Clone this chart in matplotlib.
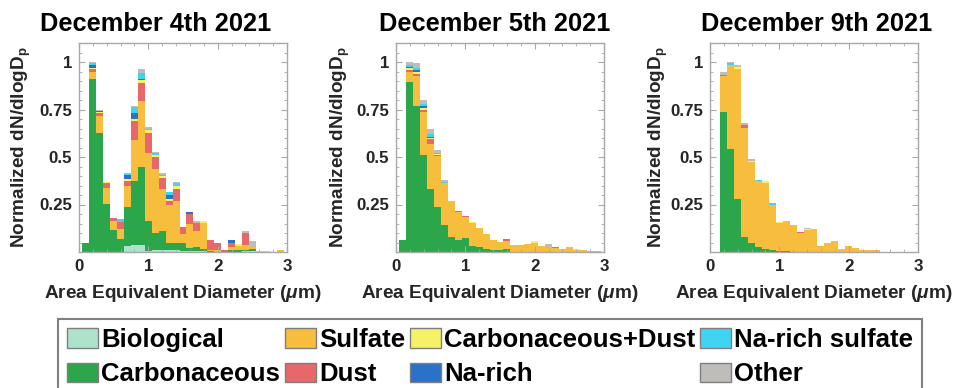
import numpy as np
import matplotlib
matplotlib.use("Agg")
import matplotlib.pyplot as plt
from matplotlib.patches import Patch
from matplotlib.ticker import MultipleLocator

plt.rcParams['font.family'] = ['Liberation Sans', 'DejaVu Sans']
plt.rcParams['font.weight'] = 'bold'
plt.rcParams['axes.labelweight'] = 'bold'
plt.rcParams['mathtext.fontset'] = 'custom'
plt.rcParams['mathtext.rm'] = 'Liberation Sans:bold'
plt.rcParams['mathtext.bf'] = 'Liberation Sans:bold'
plt.rcParams['mathtext.it'] = 'Liberation Sans:italic'

# bin centres (um)
diam = [0.1, 0.2, 0.3, 0.4, 0.5, 0.6, 0.7, 0.8, 0.9, 1.0,
        1.1, 1.2, 1.3, 1.4, 1.5, 1.6, 1.7, 1.8, 1.9, 2.0,
        2.1, 2.2, 2.3, 2.4, 2.5, 2.6, 2.7, 2.8, 2.9]

classes = ['Biological', 'Carbonaceous', 'Sulfate', 'Dust',
           'Carbonaceous+Dust', 'Na-rich', 'Na-rich sulfate', 'Other']
colors = ['#aee3cb', '#2ca64b', '#f7bd3c', '#e8676a',
          '#f5f266', '#2a72c8', '#3fd4f2', '#bfbdb9']

titles = ['December 4th 2021', 'December 5th 2021', 'December 9th 2021']

# December 4th
dec4_bio = [0, 0, 0, 0, 0, 0, 0.03, 0.035, 0.035, 0.005, 0.01, 0.01, 0.01, 0.01, 0.005,
            0.005, 0.005, 0.003, 0, 0, 0, 0, 0, 0.003, 0.005, 0.003, 0.003, 0, 0]
dec4_carb = [0.045, 0.91, 0.625, 0.253, 0.115, 0.07, 0.205, 0.34, 0.41, 0.16, 0.09, 0.10, 0.04, 0.04, 0.04,
             0.015, 0.02, 0.012, 0.003, 0, 0, 0.012, 0.01, 0.01, 0.012, 0, 0, 0, 0]
dec4_sulf = [0, 0.04, 0.09, 0.085, 0.05, 0.05, 0.112, 0.215, 0.35, 0.355, 0.335, 0.22, 0.2, 0.22, 0.05,
             0.125, 0.085, 0.14, 0.01, 0.008, 0, 0.015, 0.02, 0.025, 0.005, 0, 0, 0, 0.008]
dec4_dust = [0, 0.015, 0.015, 0.025, 0.012, 0.04, 0.026, 0.097, 0.095, 0.105, 0.065, 0.06, 0.02, 0.06, 0.035,
             0.055, 0.045, 0, 0.052, 0.04, 0.012, 0.023, 0, 0.06, 0, 0, 0, 0, 0]
dec4_cd = [0, 0.005, 0.005, 0.005, 0, 0, 0.01, 0.013, 0.015, 0.015, 0.01, 0.01, 0.01, 0.015, 0,
           0, 0, 0.008, 0, 0, 0, 0, 0.01, 0, 0, 0, 0, 0, 0]
dec4_narich = [0, 0.015, 0.005, 0, 0, 0, 0.02, 0.03, 0.005, 0, 0, 0, 0.02, 0, 0,
               0.01, 0, 0, 0, 0, 0, 0.014, 0, 0, 0, 0, 0, 0, 0]
dec4_nasulf = [0, 0.01, 0, 0, 0, 0.012, 0.008, 0.035, 0.03, 0.005, 0.01, 0.005, 0.015, 0.02, 0,
               0, 0, 0, 0, 0, 0, 0, 0, 0, 0, 0, 0, 0, 0]
dec4_other = [0, 0.005, 0.005, 0.002, 0.003, 0.003, 0.004, 0.005, 0.025, 0.015, 0.005, 0.01, 0, 0.005, 0,
              0, 0.01, 0, 0, 0, 0, 0, 0, 0.012, 0.036, 0, 0, 0, 0]

# December 5th
dec5_bio = [0] * 29
dec5_carb = [0.061, 0.894, 0.768, 0.513, 0.33, 0.236, 0.144, 0.08, 0.061, 0.072, 0.033, 0.024, 0.015, 0.008, 0.008,
             0.015, 0, 0, 0, 0, 0, 0, 0, 0, 0, 0, 0, 0, 0]
dec5_sulf = [0, 0.056, 0.156, 0.226, 0.236, 0.27, 0.22, 0.191, 0.15, 0.11, 0.122, 0.103, 0.08, 0.055, 0.046,
             0.045, 0.038, 0.035, 0.042, 0.05, 0.033, 0.022, 0.02, 0.015, 0.024, 0.01, 0.01, 0.006, 0.005]
dec5_dust = [0, 0.008, 0.012, 0.011, 0.028, 0.006, 0, 0, 0.004, 0.006, 0, 0, 0, 0, 0,
             0.008, 0, 0, 0, 0, 0, 0, 0.007, 0, 0, 0, 0, 0, 0]
dec5_cd = [0, 0.01, 0.01, 0.01, 0.008, 0.004, 0, 0, 0, 0, 0.005, 0, 0, 0, 0,
           0, 0, 0, 0, 0.006, 0, 0, 0, 0, 0, 0.005, 0, 0, 0]
dec5_narich = [0, 0.005, 0.01, 0.01, 0.005, 0, 0, 0, 0, 0, 0, 0, 0, 0, 0,
               0, 0, 0, 0, 0, 0, 0, 0, 0, 0, 0, 0, 0, 0]
dec5_nasulf = [0, 0.012, 0.01, 0.008, 0.015, 0.003, 0.006, 0, 0, 0, 0, 0, 0, 0, 0,
               0, 0, 0, 0, 0, 0, 0, 0, 0, 0, 0, 0, 0, 0]
dec5_other = [0, 0.015, 0.029, 0.022, 0.023, 0.017, 0.007, 0, 0, 0, 0, 0, 0, 0, 0,
              0, 0, 0, 0, 0, 0, 0.02, 0, 0, 0, 0, 0, 0, 0]

# December 9th
dec9_bio = [0] * 29
dec9_carb = [0, 0.739, 0.54, 0.28, 0.08, 0.05, 0.024, 0.015, 0.01, 0.005, 0.003, 0, 0, 0, 0,
             0, 0, 0, 0, 0, 0, 0, 0, 0, 0, 0, 0, 0, 0]
dec9_sulf = [0, 0.185, 0.446, 0.685, 0.574, 0.424, 0.348, 0.348, 0.235, 0.15, 0.162, 0.142, 0.1, 0.118, 0.12,
             0.033, 0.045, 0.057, 0.018, 0.033, 0.02, 0.011, 0.011, 0.011, 0, 0, 0, 0, 0]
dec9_dust = [0, 0.01, 0, 0, 0.016, 0, 0, 0, 0, 0, 0, 0, 0.007, 0, 0,
             0, 0, 0, 0, 0, 0, 0, 0, 0, 0, 0, 0, 0, 0]
dec9_cd = [0, 0, 0, 0.007, 0, 0.007, 0, 0.009, 0, 0.004, 0, 0, 0, 0.004, 0,
           0, 0, 0, 0, 0, 0, 0, 0, 0, 0, 0, 0, 0, 0]
dec9_narich = [0] * 29
dec9_nasulf = [0, 0, 0.01, 0, 0, 0, 0.005, 0, 0.012, 0, 0, 0, 0, 0, 0,
               0, 0, 0, 0, 0, 0, 0, 0, 0, 0, 0, 0, 0, 0]
dec9_other = [0, 0.013, 0.004, 0.01, 0.007, 0.007, 0, 0, 0, 0, 0, 0, 0, 0.003, 0,
              0, 0, 0, 0, 0, 0, 0, 0, 0, 0, 0, 0, 0, 0]

panels = [
    [dec4_bio, dec4_carb, dec4_sulf, dec4_dust, dec4_cd, dec4_narich, dec4_nasulf, dec4_other],
    [dec5_bio, dec5_carb, dec5_sulf, dec5_dust, dec5_cd, dec5_narich, dec5_nasulf, dec5_other],
    [dec9_bio, dec9_carb, dec9_sulf, dec9_dust, dec9_cd, dec9_narich, dec9_nasulf, dec9_other],
]

W, H = 956, 388
fig = plt.figure(figsize=(W / 100, H / 100), dpi=100)

ax_left = [79, 396, 710]
title_x = [0.37, 0.474, 0.513]
ylab_x = [-0.221, -0.213, -0.192]
ax_top, ax_bot, ax_w = 43, 252, 208
spine_col = '#a8a8a8'

for i in range(3):
    ax = fig.add_axes([ax_left[i] / W, 1 - ax_bot / H, ax_w / W, (ax_bot - ax_top) / H])
    bottom = np.zeros(len(diam))
    for vals, c in zip(panels[i], colors):
        ax.bar(diam, vals, width=0.1, bottom=bottom, color=c, linewidth=0)
        bottom += np.array(vals)

    ax.set_xlim(0, 3)
    ax.set_ylim(0, 1.1)
    ax.set_xticks([0, 1, 2, 3])
    ax.set_yticks([0.25, 0.5, 0.75, 1])
    ax.set_yticklabels(['0.25', '0.5', '0.75', '1'])
    ax.xaxis.set_minor_locator(MultipleLocator(0.2))
    ax.yaxis.set_minor_locator(MultipleLocator(0.05))
    ax.tick_params(which='both', direction='in', top=True, right=True,
                   color=spine_col, labelsize=12.2, labelcolor='#262626', pad=5)
    ax.tick_params(which='major', length=4.5, width=0.8)
    ax.tick_params(which='minor', length=2.5, width=0.6)
    for s in ax.spines.values():
        s.set_color(spine_col)
        s.set_linewidth(1)

    ax.set_xlabel(r'Area Equivalent Diameter ($\mu$m)', fontsize=13.7,
                  fontweight='bold', color='#262626')
    ax.xaxis.set_label_coords(0.5, -0.15)
    ax.set_ylabel(r'Normalized dN/dlogD$_{\mathbf{p}}$', fontsize=13.7,
                  fontweight='bold', color='#262626')
    ax.yaxis.set_label_coords(ylab_x[i], 0.5)
    ax.text(title_x[i], 1 + 12 / 209, titles[i], transform=ax.transAxes,
            ha='center', va='baseline', fontsize=18.3, fontweight='bold')

# legend
handles = [Patch(facecolor=c, edgecolor='#7f7f7f', linewidth=1) for c in colors]
leg = fig.legend(handles, classes, ncol=4, loc='upper left',
                 bbox_to_anchor=(58 / W, 1 - 319 / H), fontsize=18.5,
                 frameon=True, fancybox=False, framealpha=1, edgecolor='#7f7f7f',
                 handlelength=1.2, handleheight=0.78, handletextpad=0.12,
                 columnspacing=0.2, borderpad=0.35, borderaxespad=0, labelspacing=0.4)
leg.get_frame().set_linewidth(1.5)
for t in leg.get_texts():
    t.set_fontweight('bold')

fig.savefig('out.png', dpi=100)
